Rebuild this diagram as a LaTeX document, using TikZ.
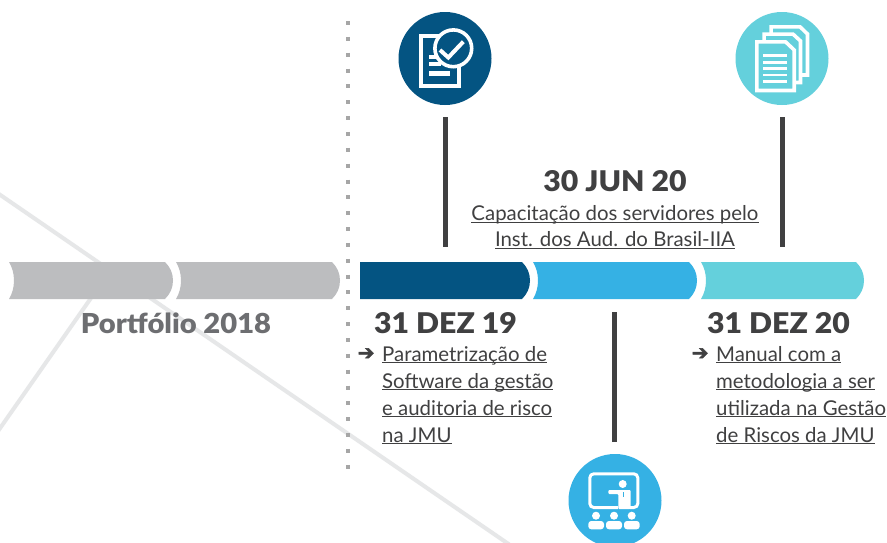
\documentclass[tikz,border=0pt]{standalone}
\usepackage{fontspec}
\setmainfont{Lato}
\newfontfamily\symbfont[FakeBold=2.5]{DejaVu Sans}
\newfontfamily\datefont[FakeStretch=1.06]{Lato Black}
\definecolor{navy}{HTML}{045482}
\definecolor{sky}{HTML}{35B1E4}
\definecolor{teal2}{HTML}{64D0DC}
\definecolor{bargray}{HTML}{BCBDBF}
\definecolor{txt}{HTML}{404041}
\definecolor{midgray}{HTML}{6D6E71}
\definecolor{faint}{HTML}{E6E7E8}
\tikzset{
  datelabel/.style={font=\datefont\fontsize{28.5}{30}\selectfont,text=txt,inner sep=0pt},
  bodylabel/.style={font=\fontsize{20.4}{27}\selectfont,text=txt,inner sep=0pt,align=left},
  arrowlabel/.style={font=\symbfont\fontsize{20}{20}\selectfont,text=txt,inner sep=0pt},
  stem/.style={draw=txt,line width=5pt},
  badge/.style={circle,minimum size=93pt,inner sep=0pt},
  page/.style={draw=white,line width=3.6pt,fill=teal2,line join=miter}
}
\newcommand{\ulin}[1]{\underline{\smash{#1}}}
\newcommand{\barseg}[3]{\fill[#1] (#2,262)--(#3-8,262) .. controls (#3-3,267) and (#3,273) .. (#3,280.5) .. controls (#3,288) and (#3-3,294) .. (#3-8,299)--(#2,299) .. controls (#2+3,294) and (#2+5,288) .. (#2+5,280.5) .. controls (#2+5,273) and (#2+3,267) .. (#2,262)--cycle;}
\begin{document}
\begin{tikzpicture}[x=1pt,y=-1pt]
\useasboundingbox (0,0) rectangle (887,542);
\fill[white] (0,0) rectangle (887,542);
\draw[faint,line width=4pt] (-4,192)--(510,545);
\draw[faint,line width=4pt] (91,298)--(-4,434);
\barseg{bargray}{9}{173}
\barseg{bargray}{176}{340}
\fill[navy] (360,262)--(522,262) .. controls (527,267) and (530,273) .. (530,280.5) .. controls (530,288) and (527,294) .. (522,299)--(360,299)--cycle;
\barseg{sky}{533}{697}
\barseg{teal2}{701}{864}
\draw[gray!70,line width=4pt,dash pattern=on 4pt off 11.85pt] (348,21)--(348,470);
\node[badge,fill=navy] (audit) at (445,58.5) {};
\node[badge,fill=teal2] (docs) at (782,58.5) {};
\node[badge,fill=sky] (train) at (615,500.5) {};
\coordinate (audit end) at (445,247);
\coordinate (docs end) at (782,247);
\coordinate (train end) at (614,312);
\draw[stem] (445,117)--(audit end);
\draw[stem] (782,117)--(docs end);
\draw[stem] (614,442)--(train end);
\node[datelabel,anchor=base] (midyear) at (615,191) {30 JUN 20};
\node[bodylabel,anchor=base] (course1) at (615,220.5) {\ulin{Capacitação dos servidores pelo}};
\node[bodylabel,anchor=base] (course2) at (615,246.5) {\ulin{Inst. dos Aud. do Brasil-IIA}};
\node[datelabel,anchor=base west] (firstdate) at (374,333) {31 DEZ 19};
\node[datelabel,anchor=base west] (lastdate) at (707,333) {31 DEZ 20};
\node[datelabel,anchor=base,text=midgray,font=\datefont\fontsize{27.5}{30}\selectfont] (portfolio) at (176,333) {Portfólio 2018};
\node[arrowlabel] (arrow1) at (366,354) {➔};
\node[arrowlabel] (arrow2) at (700,354) {➔};
\foreach \name/\ypos/\word in {a/361/Parametrização de,b/388/Software da gestão,c/415/e auditoria de risco,d/442/na JMU}
  \node[bodylabel,anchor=base west] (soft\name) at (382,\ypos) {\ulin{\word}};
\foreach \name/\ypos/\word in {a/361/Manual com a,b/388/metodologia a ser,c/415/utilizada na Gestão,d/442/de Riscos da JMU}
  \node[bodylabel,anchor=base west] (manual\name) at (716,\ypos) {\ulin{\word}};
\draw[white,line width=3.6pt] (421.1,35.8) rectangle (458.9,85.9);
\fill[white] (429,71) rectangle (450,76);
\fill[white] (429,62) rectangle (441,66);
\fill[white] (429,55) rectangle (437,58.5);
\draw[fill=navy,draw=white,line width=3.6pt] (453.3,48.3) circle[radius=18.4];
\draw[white,line width=4pt] (440,50)--(448.3,57.5)--(463.3,41.7);
\draw[page] (771.1,26.8)--(800,26.8)--(807.5,34)--(807.5,75)--(771.1,75)--cycle;
\draw[page] (764.1,34.1)--(793,34.1)--(800.5,41)--(800.5,82.5)--(764.1,82.5)--cycle;
\draw[page] (756.8,41.8)--(785.5,41.8)--(794.2,50)--(794.2,90.5)--(756.8,90.5)--cycle;
\foreach \ypos in {55.7,62.3,68.7,75,81.3}
  \draw[white,line width=2.5pt] (763.3,\ypos)--(787.3,\ypos);
\draw[white,line width=3pt,rounded corners=4pt] (618,507.5)--(589.8,507.5)--(589.8,473.8)--(637.8,473.8)--(637.8,507.5)--(630,507.5);
\fill[white] (622.7,484) circle[radius=4];
\fill[white,rounded corners=1pt] (608.3,490)--(630.7,490)--(630.7,509)--(618.3,509)--(618.3,494)--(608.3,494)--cycle;
\fill[sky] (623,491.5) rectangle (624.3,497);
\foreach \xpos/\xleft/\xright in {596/588.3/604,614/606/622,631.7/624/639.7} {
  \fill[white] (\xpos,515.7) circle[radius=4];
  \fill[white,rounded corners=3pt] (\xleft,529.3)--(\xleft,521)--(\xright,521)--(\xright,529.3)--cycle;
}
\end{tikzpicture}
\end{document}
